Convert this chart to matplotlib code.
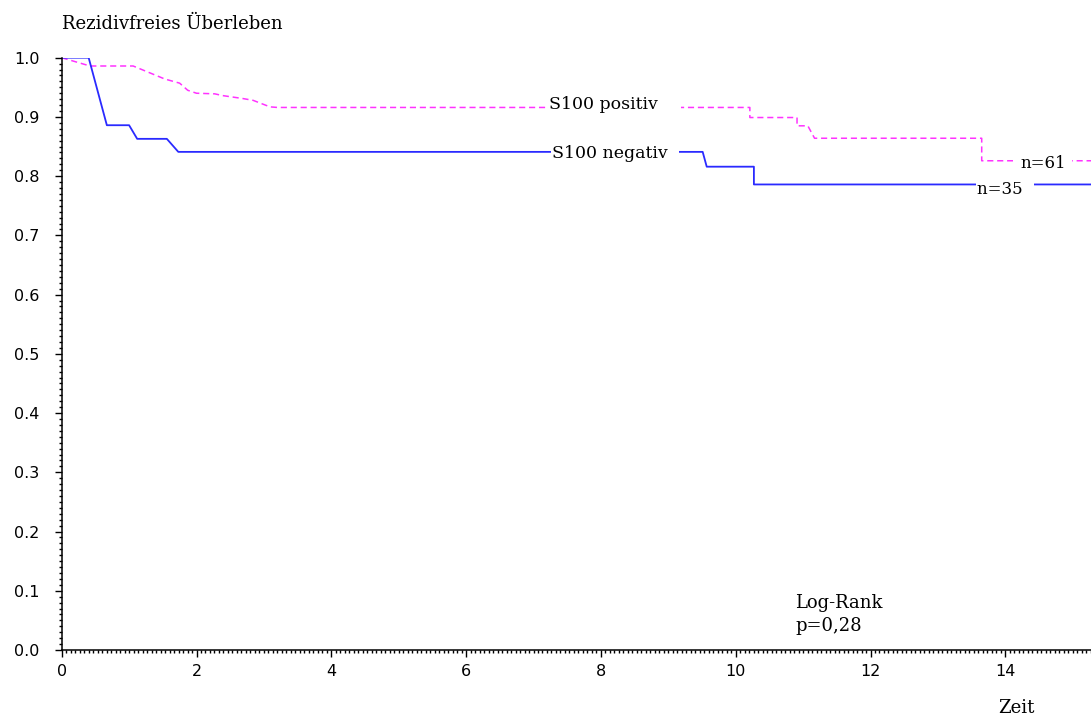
import matplotlib
matplotlib.use("Agg")
import matplotlib.pyplot as plt
from matplotlib.ticker import MultipleLocator

# curve vertices (time, survival)
neg_time = [0, 0.40, 0.67, 1.00, 1.12, 1.56, 1.73, 9.51, 9.57, 10.27, 10.27, 15.3]
neg_surv = [1.0, 1.0, 0.886, 0.886, 0.863, 0.863, 0.841, 0.841, 0.816, 0.816, 0.786, 0.786]

pos_time = [0, 0.42, 1.06, 1.53, 1.75, 1.87, 2.00, 2.27, 2.39, 2.69, 2.84, 3.09, 3.20,
            10.21, 10.21, 10.91, 10.91, 11.07, 11.17, 13.65, 13.65, 15.3]
pos_surv = [1.0, 0.986, 0.986, 0.964, 0.957, 0.945, 0.940, 0.939, 0.936, 0.931, 0.928, 0.917, 0.916,
            0.916, 0.899, 0.899, 0.885, 0.885, 0.864, 0.864, 0.826, 0.826]

x_ticks = [0, 2, 4, 6, 8, 10, 12, 14]
y_ticks = [0.0, 0.1, 0.2, 0.3, 0.4, 0.5, 0.6, 0.7, 0.8, 0.9, 1.0]

serif = "DejaVu Serif"

fig = plt.figure(figsize=(10.91, 7.18), dpi=100)
ax = fig.add_axes([61.7 / 1091, 1 - 650 / 718, 1 - 61.7 / 1091, (650 - 57.7) / 718])

ax.plot(pos_time, pos_surv, color="#ff33ff", lw=1.1, linestyle=(0, (4, 2.5)), zorder=2)
ax.plot(neg_time, neg_surv, color="#2a2aff", lw=1.3, zorder=2)

ax.set_xlim(0, (1091 - 61.7) / 67.4)
ax.set_ylim(0, 1.0)
ax.set_xticks(x_ticks)
ax.set_yticks(y_ticks)
ax.set_yticklabels(["%.1f" % v for v in y_ticks])
ax.xaxis.set_minor_locator(MultipleLocator(1 / 15))
ax.yaxis.set_minor_locator(MultipleLocator(0.01))
ax.tick_params(which="major", direction="out", length=5, width=1, labelsize=11.5, pad=5)
ax.tick_params(which="minor", direction="out", length=2.2, width=1)
ax.tick_params(axis="y", which="major", pad=11)
for spine in ["top", "right"]:
    ax.spines[spine].set_visible(False)
for spine in ["left", "bottom"]:
    ax.spines[spine].set_linewidth(1.1)

box = dict(facecolor="white", edgecolor="none", boxstyle="square,pad=0.05")
ax.text(7.23, 0.921, "S100 positiv    ", family=serif, fontsize=12.5, va="center", ha="left", bbox=box, zorder=3)
ax.text(7.27, 0.839, "S100 negativ  ", family=serif, fontsize=12.5, va="center", ha="left", bbox=box, zorder=3)
ax.text(14.22, 0.822, "n=61", family=serif, fontsize=12, va="center", ha="left",
        bbox=dict(facecolor="white", edgecolor="none", boxstyle="square,pad=0.4"), zorder=3)
ax.text(13.58, 0.778, "n=35  ", family=serif, fontsize=12, va="center", ha="left", bbox=box, zorder=3)

fig.text(61.7 / 1091, 1 - 24 / 718, "Rezidivfreies Überleben", family=serif, fontsize=13, va="center", ha="left")
fig.text(795 / 1091, 1 - 614.5 / 718, "Log-Rank\np=0,28", family=serif, fontsize=13, va="center", ha="left",
         linespacing=1.4)
fig.text(998 / 1091, 1 - 708 / 718, "Zeit", family=serif, fontsize=13, va="center", ha="left")

fig.savefig("out.png", dpi=100)
